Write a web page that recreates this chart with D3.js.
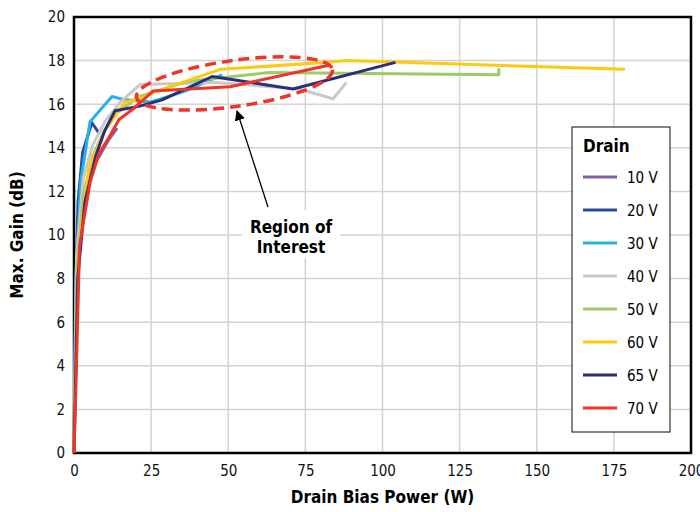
<!DOCTYPE html>
<html>
<head>
<meta charset="utf-8">
<script src="https://cdn.jsdelivr.net/npm/d3@7"></script>
<style>
  body { margin: 0; background: #fff; }
  svg text { font-family: "Liberation Sans Narrow", "DejaVu Sans Condensed", "DejaVu Sans", sans-serif; font-stretch: condensed; }
</style>
</head>
<body>
<div id="chart"></div>
<script>
// max gain vs drain bias power, one line per drain voltage

const seriesNames = ['10 V', '20 V', '30 V', '40 V', '50 V', '60 V', '65 V', '70 V'];
const seriesColors = ['#8560a8', '#2b4a9e', '#22b4e8', '#c9c9c9', '#9dcb6a', '#ffc90e', '#2b2e7c', '#ee3526'];

// [power W, gain dB]
const v10 = [[0, 0], [0.8, 8], [2.5, 11.2], [6.5, 13.2], [11.4, 14.4], [14, 14.9]];
const v20 = [[0, 0], [0.5, 7], [1.3, 11.5], [2.8, 13.8], [5.8, 15.15], [8, 14.7]];
const v30 = [[0, 0], [0.6, 8], [2.2, 12.5], [5.2, 15.2], [12.3, 16.35], [16.6, 16.2], [25, 16.1], [36, 16.6], [48, 17.35]];
const v40 = [[0, 0], [0.8, 9], [3, 12.6], [6, 14.1], [10, 15.2], [15, 16.1], [21.4, 16.9], [46, 17.0], [73, 16.7], [84, 16.25], [88.3, 17.0]];
const v50 = [[0, 0], [1, 8.5], [3, 11.8], [6, 13.6], [9.5, 14.7], [14, 15.6], [21, 16.35], [37, 17.05], [63, 17.45], [137.7, 17.35], [137.7, 17.65]];
const v60 = [[0, 0], [1.2, 8], [2.6, 10.7], [4.9, 13.1], [10, 14.8], [15, 15.8], [16.6, 16.1], [20, 16.2], [27, 16.6], [47.4, 17.6], [80, 17.9], [88.6, 18.0], [178.6, 17.6]];
const v65 = [[0, 0], [1.2, 8], [3.5, 11.5], [7, 13.6], [10, 14.8], [13.3, 15.7], [21, 15.9], [28.6, 16.2], [44.8, 17.27], [71, 16.7], [104.2, 17.92]];
const v70 = [[0, 0], [0.8, 4], [1.8, 9.5], [2.6, 10.2], [5.2, 12.4], [8, 13.7], [11.4, 14.5], [14.6, 15.3], [19.8, 15.85], [25.6, 16.6], [50.6, 16.8], [83, 17.8]];
const seriesData = [v10, v20, v30, v40, v50, v60, v65, v70];

const xTicks = [0, 25, 50, 75, 100, 125, 150, 175, 200];
const yTicks = [0, 2, 4, 6, 8, 10, 12, 14, 16, 18, 20];

const W = 700, H = 512;
const margin = { left: 74, top: 17, right: 9, bottom: 59 };

const svg = d3.select('#chart').append('svg')
  .attr('width', W)
  .attr('height', H);

const x = d3.scaleLinear().domain([0, 200]).range([margin.left, W - margin.right]);
const y = d3.scaleLinear().domain([0, 20]).range([H - margin.bottom, margin.top]);

// grid
svg.append('g')
  .selectAll('line.v')
  .data(xTicks.slice(1, -1))
  .enter().append('line')
  .attr('x1', d => x(d)).attr('x2', d => x(d))
  .attr('y1', y(0)).attr('y2', y(20))
  .attr('stroke', '#d3d3d3').attr('stroke-width', 1.5);

svg.append('g')
  .selectAll('line.h')
  .data(yTicks.slice(1, -1))
  .enter().append('line')
  .attr('x1', x(0)).attr('x2', x(200))
  .attr('y1', d => y(d)).attr('y2', d => y(d))
  .attr('stroke', '#d3d3d3').attr('stroke-width', 1.5);

// frame
svg.append('rect')
  .attr('x', x(0)).attr('y', y(20))
  .attr('width', x(200) - x(0)).attr('height', y(0) - y(20))
  .attr('fill', 'none').attr('stroke', '#000').attr('stroke-width', 2.5);

// axes (labels only)
const xAxis = svg.append('g')
  .attr('transform', `translate(0,${y(0)})`)
  .call(d3.axisBottom(x).tickValues(xTicks).tickSize(0).tickPadding(12));
const yAxis = svg.append('g')
  .attr('transform', `translate(${x(0)},0)`)
  .call(d3.axisLeft(y).tickValues(yTicks).tickSize(0).tickPadding(9));
[xAxis, yAxis].forEach(a => {
  a.select('.domain').remove();
  a.selectAll('text').attr('font-size', 15).attr('fill', '#111')
    .attr('font-family', null);
});

// lines
const line = d3.line().x(d => x(d[0])).y(d => y(d[1]));
svg.append('g')
  .selectAll('path')
  .data(seriesData)
  .enter().append('path')
  .attr('d', line)
  .attr('fill', 'none')
  .attr('stroke', (d, i) => seriesColors[i])
  .attr('stroke-width', 3)
  .attr('stroke-linejoin', 'round');

// region of interest ellipse
const cx = x(52), cy = y(16.95);
svg.append('ellipse')
  .attr('cx', cx).attr('cy', cy)
  .attr('rx', 99).attr('ry', 23)
  .attr('transform', `rotate(-8,${cx},${cy})`)
  .attr('fill', 'none')
  .attr('stroke', '#ee3526')
  .attr('stroke-width', 3.5)
  .attr('stroke-dasharray', '11,6');

// annotation
svg.append('defs').append('marker')
  .attr('id', 'arrow')
  .attr('viewBox', '0 0 10 10')
  .attr('refX', 9).attr('refY', 5)
  .attr('markerWidth', 8).attr('markerHeight', 10)
  .attr('orient', 'auto')
  .append('path').attr('d', 'M0,0L10,5L0,10z').attr('fill', '#000');

svg.append('rect')
  .attr('x', 242).attr('y', 210).attr('width', 98).attr('height', 48)
  .attr('fill', '#fff');
svg.append('line')
  .attr('x1', 268).attr('y1', 207)
  .attr('x2', 237).attr('y2', 111)
  .attr('stroke', '#000').attr('stroke-width', 1.3)
  .attr('marker-end', 'url(#arrow)');
svg.append('text')
  .attr('x', 291).attr('y', 233)
  .attr('text-anchor', 'middle')
  .attr('font-size', 17).attr('font-weight', 'bold')
  .text('Region of');
svg.append('text')
  .attr('x', 291).attr('y', 253)
  .attr('text-anchor', 'middle')
  .attr('font-size', 17).attr('font-weight', 'bold')
  .text('Interest');

// axis titles
svg.append('text')
  .attr('x', (x(0) + x(200)) / 2).attr('y', 503)
  .attr('text-anchor', 'middle')
  .attr('font-size', 17).attr('font-weight', 'bold')
  .text('Drain Bias Power (W)');
svg.append('text')
  .attr('transform', `translate(23,${(y(0) + y(20)) / 2}) rotate(-90)`)
  .attr('text-anchor', 'middle')
  .attr('font-size', 17).attr('font-weight', 'bold')
  .text('Max. Gain (dB)');

// legend
const legend = svg.append('g').attr('transform', 'translate(572,127)');
legend.append('rect')
  .attr('width', 98).attr('height', 305)
  .attr('fill', '#fff').attr('stroke', '#333').attr('stroke-width', 1.2);
legend.append('text')
  .attr('x', 11).attr('y', 25)
  .attr('font-size', 17).attr('font-weight', 'bold')
  .text('Drain');
const items = legend.selectAll('g.item')
  .data(seriesNames)
  .enter().append('g')
  .attr('transform', (d, i) => `translate(0,${50 + i * 33})`);
items.append('line')
  .attr('x1', 11).attr('x2', 45)
  .attr('stroke', (d, i) => seriesColors[i])
  .attr('stroke-width', 3);
items.append('text')
  .attr('x', 55).attr('y', 6)
  .attr('font-size', 15)
  .text(d => d);
</script>
</body>
</html>
